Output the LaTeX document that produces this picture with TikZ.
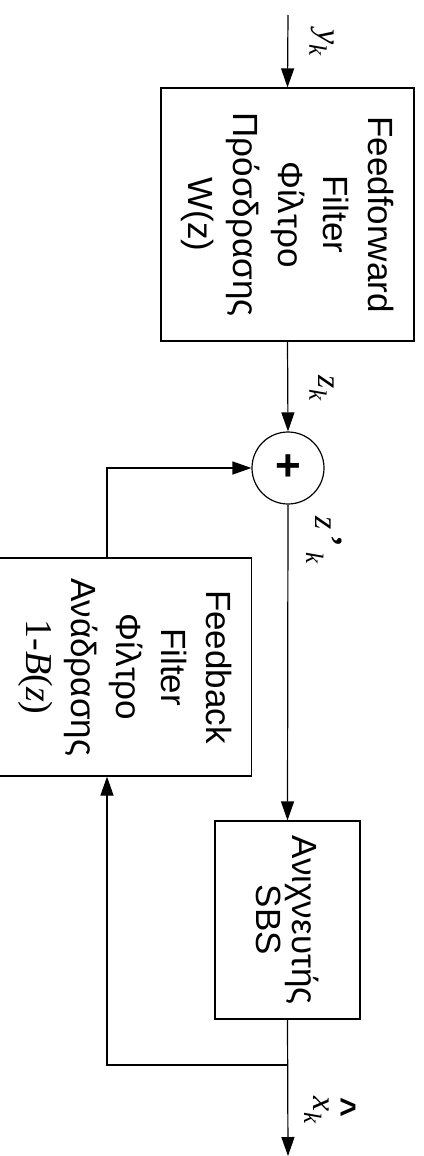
\documentclass[tikz,border=0pt]{standalone}
\usepackage{fontspec}
\usetikzlibrary{arrows.meta}
\newfontfamily\boxfont{Liberation Sans}
\newfontfamily\tmsfont{Liberation Serif}
% italic signal name with a lowered italic index
\newcommand\signame[2]{{\tmsfont\itshape #1\raisebox{-0.28em}{\fontsize{25}{25}\selectfont #2}}}
\begin{document}
\begin{tikzpicture}[x=1pt,y=-1pt,
  wire/.style={line width=1.2pt},
  sig/.style={wire,-{Triangle[length=19pt,width=13pt]}},
  blk/.style={draw,line width=1.2pt,inner sep=0pt,anchor=center},
  blktext/.style={rotate=-90,align=center,inner sep=0pt,
    font=\boxfont\fontsize{35}{45}\selectfont},
  lbl/.style={rotate=-90,inner sep=0pt,font=\fontsize{34}{34}\selectfont}]
\useasboundingbox (0,0) rectangle (423,1156);

% blocks
\node[blk,minimum width=253pt,minimum height=253pt] (ff) at (287.5,214.5) {};
\node[blk,circle,minimum size=72pt] (sum) at (288,468) {};
\node[blk,minimum width=253pt,minimum height=218pt] (fb) at (125,667) {};
\node[blk,minimum width=145pt,minimum height=198pt] (sbs) at (287.5,920) {};

% block texts
\node[blktext] (fft) at (ff.center) {Feedforward\\Filter\\Φίλτρο\\Πρόσδρασης\\W(z)};
\node[blktext] (fbt) at (fb.center) {Feedback\\Filter\\Φίλτρο\\Ανάδρασης\\{\tmsfont\fontsize{38}{45}\selectfont 1-\textit{B}(\textit{z})}};
\node[blktext,font=\boxfont\fontsize{35}{36}\selectfont] (sbst) at (sbs.center) {Ανιχνευτής\\SBS};
\node[inner sep=0pt,font=\boxfont\bfseries\fontsize{44}{44}\selectfont] (plus) at (sum.center) {+};

% wiring points
\coordinate (in) at (288,15);
\coordinate (out) at (288,1156);
\coordinate (j) at (288,1065);
\coordinate (c1) at (107,1065);
\coordinate (c2) at (107,468);

% connectors
\draw[sig] (in) -- (ff.north);
\draw[sig] (ff.south) -- (sum.north);
\draw[sig] (sum.south) -- (sbs.north);
\draw[sig] (sbs.south) -- (out);
\draw[sig] (j) -- (c1) -- (c1 |- fb.south);
\draw[sig] (c1 |- fb.north) -- (c2) -- (sum.west);

% signal labels
\node[lbl] (ly) at (322,43) {\signame{y}{k}};
\node[lbl] (lz) at (322,388) {\signame{z}{k}};
\node[lbl] (lz2) at (324,540) {\signame{z\,{\upshape\bfseries\raisebox{0.1em}{’}}\,}{k}};
\node[lbl] (lx) at (330,1110) {\signame{\rlap{\hspace{0.02em}\raisebox{0.55em}{\boxfont\upshape\bfseries\fontsize{34}{34}\selectfont\textasciicircum}}x}{k}};
\end{tikzpicture}
\end{document}
